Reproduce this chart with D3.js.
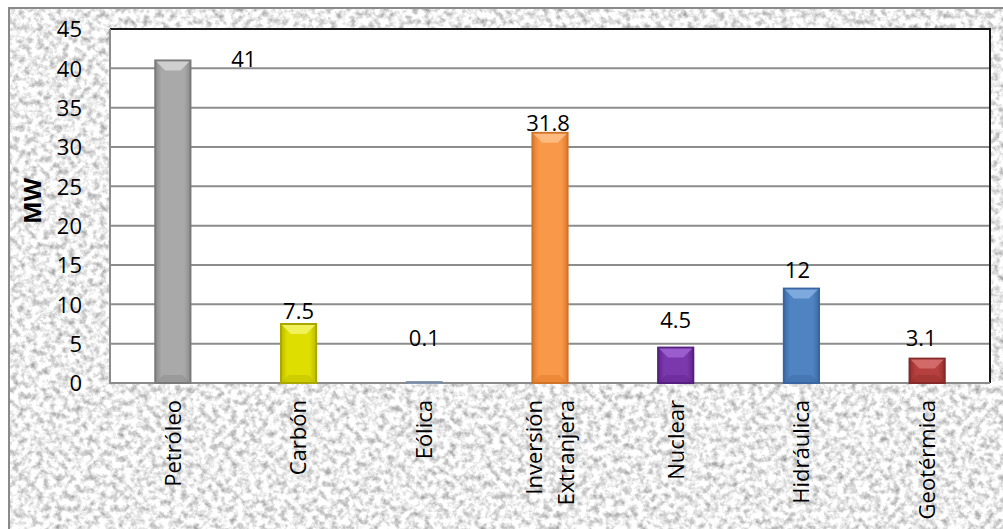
<!DOCTYPE html>
<html>
<head>
<meta charset="utf-8">
<script src="https://cdn.jsdelivr.net/npm/d3@7"></script>
<style>
  html, body { margin: 0; padding: 0; background: #ffffff; }
  svg { display: block; }
  text { font-family: "Open Sans", "Liberation Sans", sans-serif; fill: #000; }
</style>
</head>
<body>
<svg id="chart" width="1003" height="529"></svg>
<script>
// Capacidad instalada por fuente (MW)
const categories = [["Petróleo"], ["Carbón"], ["Eólica"], ["Inversión", "Extranjera"], ["Nuclear"], ["Hidráulica"], ["Geotérmica"]];
const values = [41, 7.5, 0.1, 31.8, 4.5, 12, 3.1];
const yTicks = [0, 5, 10, 15, 20, 25, 30, 35, 40, 45];
const yTitle = "MW";

// Bar colours: base, edge shade, outline, top bevel highlight
const barBase   = ["#a9a9a9", "#dede00", "#8a9bb3", "#f99848", "#7b38ad", "#4f83c2", "#b5403e"];
const barEdge   = ["#8c8c8c", "#bcbc00", "#73849c", "#e07c2c", "#62238f", "#3d6ca6", "#952e2c"];
const barStroke = ["#7a7a7a", "#a8a800", "#7a8ca4", "#d0742a", "#55207d", "#3a65a0", "#86292a"];
const barTop    = ["#d6d6d6", "#f4f46a", "#b4c2d6", "#ffc08a", "#a064d2", "#86b0e4", "#d87272"];

// Hand-placed value labels: offsets from the bar centre / bar top
const labelDx = [71, 0, 0, -2, 0, -4, -6];
const labelDy = [7, -5, -36, -2, -20, -11, -13];

const svg = d3.select("#chart");
const W = 1003, H = 529;
const plot = { left: 110, right: 990, top: 29, bottom: 383 };

// ---- textured background ----
const defs = svg.append("defs");
const granite = defs.append("filter").attr("id", "granite")
  .attr("x", 0).attr("y", 0).attr("width", 1).attr("height", 1)
  .attr("color-interpolation-filters", "sRGB");
granite.append("feTurbulence").attr("type", "fractalNoise")
  .attr("baseFrequency", "0.16").attr("numOctaves", 4).attr("seed", 7).attr("result", "n");
granite.append("feColorMatrix").attr("type", "matrix")
  .attr("values", "0.75 0 0 0 0.55  0.75 0 0 0 0.55  0.75 0 0 0 0.55  0 0 0 0 1");

svg.append("rect").attr("x", 0).attr("y", 0).attr("width", W).attr("height", H).attr("fill", "#fff");
svg.append("rect").attr("x", 9).attr("y", 8).attr("width", W - 9).attr("height", H - 8)
  .attr("fill", "#e8e8e8").attr("filter", "url(#granite)");
svg.append("path")
  .attr("d", `M9,${H} V8 H${W}`)
  .attr("fill", "none").attr("stroke", "#8a8a8a").attr("stroke-width", 2);

// ---- scales ----
const x = d3.scaleBand()
  .domain(d3.range(categories.length))
  .range([plot.left, plot.right])
  .paddingInner(0.72).paddingOuter(0.36);
const y = d3.scaleLinear().domain([0, 45]).range([plot.bottom, plot.top]);

// plot area
svg.append("rect")
  .attr("x", plot.left).attr("y", plot.top)
  .attr("width", plot.right - plot.left).attr("height", plot.bottom - plot.top)
  .attr("fill", "#ffffff");

// gridlines
svg.append("g").selectAll("line").data(yTicks.filter(d => d > 0 && d < 45)).join("line")
  .attr("x1", plot.left).attr("x2", plot.right)
  .attr("y1", d => y(d)).attr("y2", d => y(d))
  .attr("stroke", "#8c8c8c").attr("stroke-width", 2);

// plot frame: dark top and right edges, grey axis lines
svg.append("path")
  .attr("d", `M${plot.left},${plot.top} H${plot.right} V${plot.bottom}`)
  .attr("fill", "none").attr("stroke", "#1a1a1a").attr("stroke-width", 2);
svg.append("path")
  .attr("d", `M${plot.left},${plot.top} V${plot.bottom} H${plot.right}`)
  .attr("fill", "none").attr("stroke", "#8c8c8c").attr("stroke-width", 2);

// y axis tick labels
const yAxis = d3.axisLeft(y).tickValues(yTicks).tickSize(0).tickPadding(0);
const yg = svg.append("g").attr("transform", `translate(${82},0)`).call(yAxis);
yg.select(".domain").remove();
yg.selectAll("text")
  .attr("font-size", 22).attr("font-family", "'Open Sans', sans-serif")
  .attr("fill", "#000").attr("dy", "0.36em");

// y axis title
svg.append("text")
  .attr("transform", `translate(41,201) rotate(-90)`)
  .attr("text-anchor", "middle")
  .attr("font-size", 24).attr("font-weight", "bold")
  .text(yTitle);

// ---- bars ----
values.forEach((v, i) => {
  const g = defs.append("linearGradient").attr("id", "bar" + i)
    .attr("x1", 0).attr("x2", 1).attr("y1", 0).attr("y2", 0);
  g.append("stop").attr("offset", "0").attr("stop-color", barEdge[i]);
  g.append("stop").attr("offset", "0.18").attr("stop-color", barBase[i]);
  g.append("stop").attr("offset", "0.82").attr("stop-color", barBase[i]);
  g.append("stop").attr("offset", "1").attr("stop-color", barEdge[i]);
});

const bars = svg.append("g").selectAll("g").data(values).join("g");
bars.append("rect")
  .attr("x", (d, i) => x(i)).attr("y", d => y(d))
  .attr("width", x.bandwidth()).attr("height", d => y(0) - y(d))
  .attr("fill", (d, i) => `url(#bar${i})`)
  .attr("stroke", (d, i) => barStroke[i]).attr("stroke-width", 2);
// top bevel facet
bars.append("path")
  .attr("d", (d, i) => {
    const x0 = x(i) + 1, x1 = x(i) + x.bandwidth() - 1, t = y(d) + 1;
    const b = Math.min(9, (y(0) - y(d)) / 2);
    return `M${x0},${t} L${x1},${t} L${x1 - b},${t + b} L${x0 + b},${t + b} Z`;
  })
  .attr("fill", (d, i) => barTop[i]).attr("opacity", 0.85);
// bottom bevel facet
bars.append("path")
  .attr("d", (d, i) => {
    const x0 = x(i) + 1, x1 = x(i) + x.bandwidth() - 1, bt = y(0) - 1;
    const b = Math.min(7, (y(0) - y(d)) / 2);
    return `M${x0},${bt} L${x1},${bt} L${x1 - b},${bt - b} L${x0 + b},${bt - b} Z`;
  })
  .attr("fill", (d, i) => barEdge[i]).attr("opacity", 0.5);

// value labels
svg.append("g").selectAll("text").data(values).join("text")
  .attr("x", (d, i) => x(i) + x.bandwidth() / 2 + labelDx[i])
  .attr("y", (d, i) => y(d) + labelDy[i])
  .attr("text-anchor", "middle")
  .attr("font-size", 22)
  .text(d => d);

// category labels (rotated)
const cat = svg.append("g").selectAll("g").data(categories).join("g")
  .attr("transform", (d, i) => `translate(${x(i) + x.bandwidth() / 2},400) rotate(-90)`);
cat.each(function (lines) {
  const n = lines.length;
  lines.forEach((line, k) => {
    d3.select(this).append("text")
      .attr("text-anchor", "end")
      .attr("x", 0)
      .attr("y", (k - (n - 1) / 2) * 32)
      .attr("dy", "0.36em")
      .attr("font-size", 22)
      .text(line);
  });
});
</script>
</body>
</html>
